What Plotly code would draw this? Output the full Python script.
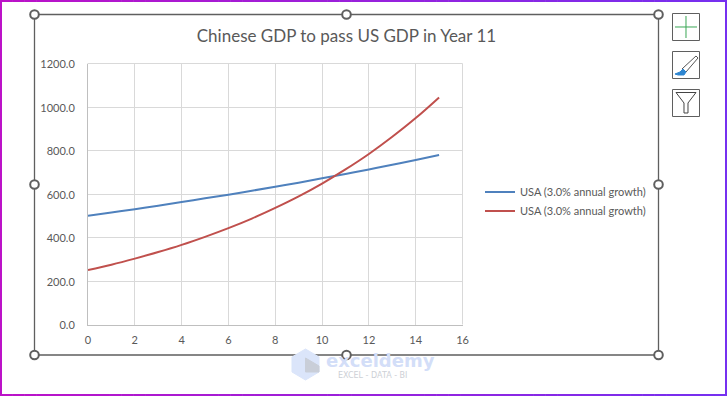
import plotly.graph_objects as go

W, H = 727, 396
years = list(range(16))
usa = [500, 515, 530, 546, 563, 580, 597, 615, 633, 652, 672, 692, 713, 734, 756, 779]
china = [250, 275, 303, 333, 366, 403, 443, 487, 536, 589, 648, 713, 784, 863, 949, 1044]
series_name = "USA (3.0% annual growth)"
title_text = "Chinese GDP to pass US GDP in Year 11"
x_ticks = list(range(0, 17, 2))
y_ticks = [0, 200, 400, 600, 800, 1000, 1200]
FONT = "Lato"
TXT = "#595959"
GRID = "#d9d9d9"


def X(p):
    return p / W


def Y(p):
    return 1 - p / H


fig = go.Figure()
fig.add_trace(go.Scatter(x=years, y=usa, mode="lines", name=series_name, line=dict(color="#4f81bd", width=2, shape="spline")))
fig.add_trace(go.Scatter(x=years, y=china, mode="lines", name=series_name, line=dict(color="#c0504d", width=2, shape="spline")))

shapes = []


def rect(x0, y0, x1, y1, fill, line=None, lw=0, layer="above"):
    shapes.append(dict(type="rect", xref="paper", yref="paper", x0=X(x0), x1=X(x1), y0=Y(y0), y1=Y(y1),
                       fillcolor=fill, line=dict(color=line or fill, width=lw), layer=layer))


def path(pts, fill="rgba(0,0,0,0)", line="#595959", lw=1, close=True, layer="above"):
    d = "M " + " L ".join(f"{X(a):.5f},{Y(b):.5f}" for a, b in pts) + (" Z" if close else "")
    shapes.append(dict(type="path", xref="paper", yref="paper", path=d, fillcolor=fill, line=dict(color=line, width=lw), layer=layer))


# outer gradient border
n = 60
for i in range(n):
    t = i / (n - 1)
    c = f"rgb({int(188 - 70 * t)},{int(18 + 30 * t)},{int(200 + 40 * t)})"
    a, b = W * i / n, W * (i + 1) / n + 0.5
    rect(a, 0, b, 2, c)
    rect(a, H - 2, b, H, c)
rect(0, 0, 2, H, "rgb(188,18,200)")
rect(W - 2, 0, W, H, "rgb(118,48,240)")

# plot-area top and right edges
path([(87.5, 63.5), (462.5, 63.5), (462.5, 324.5)], line=GRID, close=False, layer="below")

# chart frame and handles
rect(34.5, 14.5, 658.5, 355, "rgba(0,0,0,0)", line="#5f5f5f", lw=1.3)
for hx in (34.5, 346.5, 658.5):
    for hy in (14.5, 184.5, 355):
        if hx == 346.5 and hy == 184.5:
            continue
        shapes.append(dict(type="circle", xref="paper", yref="paper", x0=X(hx - 4.3), x1=X(hx + 4.3),
                           y0=Y(hy + 4.3), y1=Y(hy - 4.3), fillcolor="white", line=dict(color="#5f5f5f", width=2)))

# side buttons
for top in (13.5, 51.5, 89.5):
    rect(672.5, top, 699.5, top + 27, "white", line="#5f5f5f", lw=1)
path([(675, 27), (697, 27)], line="#3aa655", close=False)
path([(686, 16), (686, 38)], line="#3aa655", close=False)
path([(696, 56), (698, 58), (686, 72), (682, 69)], fill="white", line="#555555")
path([(675, 74), (680, 72), (683, 69), (686, 72), (684, 75), (678, 75)], fill="#2e86d1", line="#2e86d1")
path([(676, 92.5), (696, 92.5), (688, 103), (688, 113), (684, 113), (684, 103)], fill="white", line="#444444")

# watermark logo
path([(305.5, 349), (319, 357), (319, 372), (305.5, 380), (292, 372), (292, 357)], fill="#dbe5fa", line="#dbe5fa")
path([(305.5, 358), (319, 366), (319, 372), (305.5, 372)], fill="#c9ced8", line="#c9ced8")

annotations = [
    dict(text="exceldemy", x=X(324), y=Y(360), xref="paper", yref="paper", xanchor="left", yanchor="middle", showarrow=False,
         font=dict(family="DejaVu Sans", size=18, color="#d3def8", weight="bold")),
    dict(text="EXCEL - DATA - BI", x=X(336), y=Y(375), xref="paper", yref="paper", xanchor="left", yanchor="middle", showarrow=False,
         font=dict(family="DejaVu Sans", size=8, color="#cdd0d6")),
]

fig.update_layout(
    template="none",
    width=W, height=H, autosize=False,
    margin=dict(l=0, r=0, t=0, b=0, pad=0), paper_bgcolor="white", plot_bgcolor="white",
    title=dict(text=title_text, x=346.5 / W, xanchor="center", y=Y(36), yanchor="middle",
               font=dict(family=FONT, size=17, color=TXT)),
    font=dict(family=FONT, size=11, color=TXT),
    xaxis=dict(domain=[X(88), X(462.5)], range=[0, 16], tickvals=x_ticks, tickformat="d", showgrid=True, gridcolor=GRID,
               gridwidth=1, showline=True, linecolor="#bfbfbf", mirror=False, ticks="", zeroline=False, automargin=False,
               ticklabelstandoff=5, tickfont=dict(family=FONT, size=11, color=TXT)),
    yaxis=dict(domain=[Y(324.5), Y(63.5)], range=[0, 1200], tickvals=y_ticks, tickformat=".1f", showgrid=True, gridcolor=GRID,
               gridwidth=1, showline=True, linecolor="#bfbfbf", ticks="", zeroline=False, automargin=False,
               ticklabelstandoff=10, ticklabelshift=1, tickfont=dict(family=FONT, size=11, color=TXT)),
    legend=dict(x=X(480), y=Y(201.5), xanchor="left", yanchor="middle", bgcolor="rgba(0,0,0,0)",
                font=dict(family=FONT, size=11, color=TXT), itemwidth=30),
    shapes=shapes, annotations=annotations,
)
fig.write_html("out.html", config={"displayModeBar": False},
               post_script="document.body.style.margin='0';document.body.style.overflow='hidden';")
